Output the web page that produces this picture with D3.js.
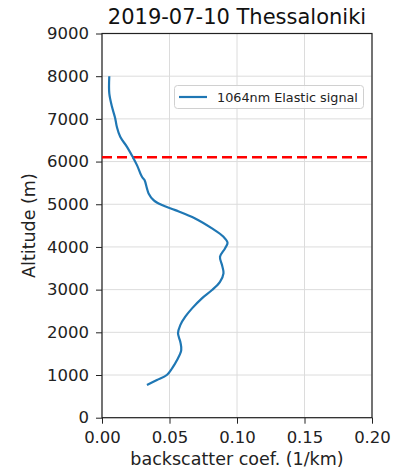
<!DOCTYPE html>
<html><head><meta charset="utf-8">
<script src="https://cdn.jsdelivr.net/npm/d3@7"></script>
<style>body{margin:0;background:#fff}svg{display:block}text{font-family:"DejaVu Sans",sans-serif}</style>
</head><body><svg id="c" width="396" height="470"></svg>
<script>
const title = "2019-07-10 Thessaloniki";
const xLabel = "backscatter coef. (1/km)";
const yLabel = "Altitude (m)";
const seriesName = "1064nm Elastic signal";
const backscatter = [0.0054,0.0054,0.0074,0.0098,0.011,0.0135,0.0185,0.0227,0.0259,0.0296,0.0315,0.0333,0.0345,0.0382,0.0444,0.0543,0.069,0.0815,0.090,0.093,0.0911,0.0874,0.0889,0.090,0.0874,0.0815,0.074,0.0667,0.0617,0.058,0.0563,0.058,0.0587,0.0556,0.0519,0.048,0.0407,0.0333];
const altitude = [8000,7595,7282,7010,6814,6580,6345,6111,5917,5643,5566,5371,5254,5097,4980,4863,4668,4434,4238,4098,3966,3770,3575,3381,3184,2990,2796,2561,2365,2170,1976,1780,1585,1351,1157,1000,883,766];
const refAltitude = 6100;
const xTicks = [0,0.05,0.10,0.15,0.20];
const yTicks = [0,1000,2000,3000,4000,5000,6000,7000,8000,9000];

const svg = d3.select("#c");
const L=102, R=372, T=33.5, B=417.7;
const x = d3.scaleLinear().domain([0,0.2]).range([L,R]);
const y = d3.scaleLinear().domain([0,9000]).range([B,T]);

// grid
svg.append("g").selectAll("line").data(xTicks).join("line")
  .attr("x1",d=>x(d)).attr("x2",d=>x(d)).attr("y1",T).attr("y2",B)
  .attr("stroke","#dcdcdc").attr("stroke-width",1);
svg.append("g").selectAll("line").data(yTicks).join("line")
  .attr("y1",d=>y(d)).attr("y2",d=>y(d)).attr("x1",L).attr("x2",R)
  .attr("stroke","#dcdcdc").attr("stroke-width",1);

// axes
const xa = svg.append("g").attr("transform",`translate(0,${B})`)
  .call(d3.axisBottom(x).tickValues(xTicks).tickFormat(d3.format(".2f")).tickSizeOuter(0).tickSize(6).tickPadding(8));
const ya = svg.append("g").attr("transform",`translate(${L},0)`)
  .call(d3.axisLeft(y).tickValues(yTicks).tickFormat(d3.format("d")).tickSizeOuter(0).tickSize(6).tickPadding(7));
[xa,ya].forEach(a=>{a.select(".domain").remove();
  a.selectAll("text").attr("font-size",16.5).attr("fill","#222").attr("font-family","DejaVu Sans");
  a.selectAll("line").attr("stroke","#222");});

// frame
svg.append("rect").attr("x",L).attr("y",T).attr("width",R-L).attr("height",B-T)
  .attr("fill","none").attr("stroke","#222").attr("stroke-width",1.2);

// ref line
svg.append("line").attr("x1",L).attr("x2",R).attr("y1",y(refAltitude)).attr("y2",y(refAltitude))
  .attr("stroke","#ff0000").attr("stroke-width",2.5).attr("stroke-dasharray","10,5");

// data line
const pts = backscatter.map((v,i)=>[v,altitude[i]]);
svg.append("path").datum(pts)
  .attr("d",d3.line().x(d=>x(d[0])).y(d=>y(d[1])).curve(d3.curveCatmullRom))
  .attr("fill","none").attr("stroke","#1f77b4").attr("stroke-width",2.2);

// legend
const lg = svg.append("g");
lg.append("rect").attr("x",174.5).attr("y",85.5).attr("width",189).attr("height",23).attr("rx",3)
  .attr("fill","#fff").attr("fill-opacity",0.85).attr("stroke","#d0d0d0");
lg.append("line").attr("x1",179).attr("x2",207).attr("y1",97).attr("y2",97).attr("stroke","#1f77b4").attr("stroke-width",2.2);
lg.append("text").attr("x",217).attr("y",101.5).attr("font-size",12.8).attr("fill","#222").text(seriesName);

// titles
svg.append("text").attr("x",(L+R)/2).attr("y",24).attr("text-anchor","middle").attr("font-size",21).attr("fill","#111").text(title);
svg.append("text").attr("x",(L+R)/2).attr("y",465).attr("text-anchor","middle").attr("font-size",17.5).attr("fill","#222").text(xLabel);
svg.append("text").attr("transform",`translate(35,${(T+B)/2}) rotate(-90)`).attr("text-anchor","middle").attr("font-size",17.5).attr("fill","#222").text(yLabel);
</script></body></html>
